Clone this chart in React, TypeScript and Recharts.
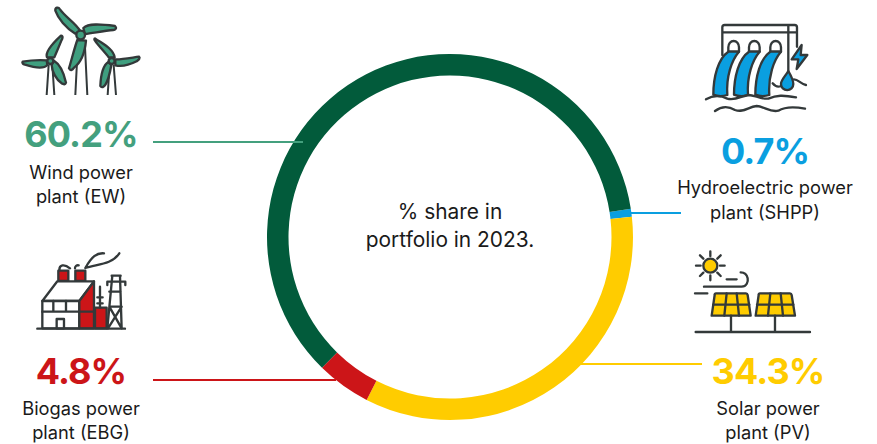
import React from "react";
import { PieChart, Pie, Cell } from "recharts";

const categories = ["Hydroelectric power plant (SHPP)", "Solar power plant (PV)", "Biogas power plant (EBG)", "Wind power plant (EW)"];
const shares = [0.7, 34.3, 4.8, 60.2];
const sliceColors = ["#0a9fe0", "#ffcc00", "#cc1518", "#025b3b"];
const valueLabels = ["0.7%", "34.3%", "4.8%", "60.2%"];
const labelColors = ["#0a9fe0", "#ffcc00", "#cc1518", "#44a07e"];
const line1 = ["Hydroelectric power", "Solar power", "Biogas power", "Wind power"];
const line2 = ["plant (SHPP)", "plant (PV)", "plant (EBG)", "plant (EW)"];
const centerLines = ["% share in", "portfolio in 2023."];

const labelCx = [765, 768, 81, 81];
const valueBase = [164, 384, 384, 147];
const line1Base = [194, 415, 415, 179];
const line2Base = [219, 439, 439, 203];
const leaders = [
  [630, 213, 681, 213],
  [580, 364, 702, 364],
  [153, 380, 336, 380],
  [153, 142, 303, 142],
];

const FONT = "Inter, 'Open Sans', sans-serif";
const data = categories.map((name, i) => ({ name, value: shares[i] }));
const DK = "#33393a";

function WindIcon() {
  const c = { fill: "#3f9f7f", stroke: DK, strokeWidth: 7, strokeLinejoin: "round" as const };
  const m = { stroke: DK, strokeWidth: 6, fill: "none" };
  return (
    <g transform="scale(0.3333)">
      <path d="M232 165L226 285M254 120L262 285M146 195L140 285M157 195L163 285M329 195L323 285M341 195L348 285" {...m} />
      <path {...c} d="M226 101C198 85 174 55 166 32C165 22 175 20 180 28C195 50 228 70 240 92Z" />
      <path {...c} d="M250 84C265 70 300 72 345 78C352 85 345 90 340 90C310 93 275 100 255 102Z" />
      <path {...c} d="M232 120C223 145 216 175 207 205C212 215 218 208 222 203C240 190 254 165 258 122Z" />
      <circle {...c} cx="242" cy="105" r="13" />
      <path {...c} d="M141 172C134 155 158 130 183 107C190 108 188 115 184 122C177 140 170 155 163 172Z" />
      <path {...c} d="M140 181C120 180 90 181 68 185C65 190 70 192 75 194C100 202 130 209 142 195Z" />
      <path {...c} d="M162 182C184 195 193 225 198 248C195 256 190 252 185 250C168 238 156 215 155 195Z" />
      <circle {...c} cx="151" cy="183" r="9" />
      <path {...c} d="M285 115C305 130 340 145 344 172L326 172C315 157 295 137 285 122C282 118 283 115 285 115Z" />
      <path {...c} d="M346 178C365 179 400 172 417 170C422 175 415 180 410 184C390 194 370 202 346 196Z" />
      <path {...c} d="M325 186C306 198 302 235 301 258C305 265 312 260 315 256C326 240 329 225 334 195Z" />
      <circle {...c} cx="335" cy="183" r="9" />
    </g>
  );
}

function HydroIcon() {
  const s = { stroke: DK, strokeWidth: 7, strokeLinejoin: "round" as const, strokeLinecap: "round" as const };
  const f = { ...s, fill: "#0a9fe0" };
  const n = { ...s, fill: "none" };
  const xs = [0, 62, 126];
  return (
    <g transform="scale(0.3333)">
      <path {...n} d="M127 165V82Q127 75 134 75H344Q351 75 351 82V140M127 97H351M325 75V215" />
      {xs.map((dx) => (
        <g key={dx} transform={`translate(${dx} 0)`}>
          <path {...s} fill="#fff" d="M145 155V142A16 19 0 0 1 177 142V155Z" />
          <path {...f} d="M145 155H177C155 180 138 230 142 285Q120 292 100 284C100 230 115 175 145 155Z" />
        </g>
      ))}
      <path {...f} d="M325 213C315 230 303 240 303 252A18 18 0 0 0 340 252C340 240 332 225 325 213Z" />
      <path {...f} d="M365 135L335 178L355 178L350 207L382 165L362 165Z" />
      <path {...n} d="M78 298C100 285 120 285 142 296C165 303 185 288 205 285C225 285 240 298 265 296C290 285 310 285 348 292" />
      <path {...n} d="M105 333C125 318 145 318 165 330C190 340 205 320 230 318C255 320 270 338 295 332C315 320 345 320 375 326" />
      <path {...n} d="M342 238C355 238 362 252 378 255M278 250C288 262 295 262 303 258" />
    </g>
  );
}

function FactoryIcon() {
  const s = { stroke: DK, strokeWidth: 7, strokeLinejoin: "round" as const, strokeLinecap: "round" as const };
  const r = { ...s, fill: "#cc1518" };
  const n = { ...s, fill: "none" };
  return (
    <g transform="scale(0.3333)">
      <rect {...r} x="115" y="92" width="30" height="31" />
      <rect {...r} x="166" y="92" width="30" height="31" />
      <path {...n} d="M118 90C118 75 132 70 150 85M165 85C165 78 170 75 176 76M196 84C215 50 230 38 252 40M196 84C230 72 275 75 298 40" />
      <path {...s} fill="#fff" d="M67 183L112 124H222L178 183Z" />
      <rect {...s} fill="#fff" x="67" y="183" width="111" height="82" />
      <path {...n} d="M67 215H178M100 183V215M138 183V215" />
      <rect {...s} fill="#fff" x="110" y="237" width="22" height="28" />
      <path {...r} d="M178 183L222 124V265H178Z" />
      <path {...n} d="M178 215H222" />
      <rect {...r} x="225" y="203" width="35" height="62" />
      <path {...n} d="M240 140V203M232 172H248M232 190H248" />
      <path {...n} d="M275 107H302M262 125H316M262 125V135M316 125V135M277 107L262 265M300 107L305 265M268 155H302M268 200H305M268 200L305 265M305 200L264 265" />
      <path {...n} d="M52 266H315" />
    </g>
  );
}

function SolarIcon() {
  const s = { stroke: DK, strokeWidth: 7, strokeLinejoin: "round" as const, strokeLinecap: "round" as const };
  const y = { ...s, fill: "#ffcc00" };
  const n = { ...s, fill: "none" };
  return (
    <g transform="scale(0.3333)">
      <circle {...y} cx="91" cy="77" r="21" />
      <path {...n} d="M91 34V48M91 106V121M48 77H62M120 77H134M60 46L70 56M112 98L122 108M122 46L112 56M70 98L60 108" />
      <path {...n} d="M72 140H185C200 140 205 125 203 115C200 100 190 97 182 97M140 118H170M45 160H82" />
      <path {...y} d="M108 160H198Q202 160 203 165L212 227H95L104 165Q104 160 108 160Z" />
      <path {...n} d="M100 194H208M140 160L133 227M170 160L177 227" />
      <path {...y} d="M240 160H330Q334 160 335 165L345 227H227L236 165Q236 160 240 160Z" />
      <path {...n} d="M231 194H340M271 160L264 227M302 160L309 227" />
      <path {...n} d="M153 227V275M285 227V275M47 276H390" />
    </g>
  );
}

export default function App() {
  return (
    <div style={{ position: "absolute", left: 0, top: 0, width: 877, height: 444, background: "#fff", overflow: "hidden" }}>
      <PieChart width={877} height={444} margin={{ top: 0, right: 0, bottom: 0, left: 0 }}>
        <Pie
          data={data}
          dataKey="value"
          nameKey="name"
          cx={450}
          cy={237}
          innerRadius={161.5}
          outerRadius={183}
          startAngle={8.9}
          endAngle={-351.1}
          stroke="none"
          isAnimationActive={false}
        >
          {data.map((d, i) => (
            <Cell key={d.name} fill={sliceColors[i]} />
          ))}
        </Pie>
      </PieChart>
      <svg width={877} height={444} style={{ position: "absolute", left: 0, top: 0 }} fontFamily={FONT}>
        {leaders.map((l, i) => (
          <line key={i} x1={l[0]} y1={l[1]} x2={l[2]} y2={l[3]} stroke={labelColors[i]} strokeWidth={2} />
        ))}
        {valueLabels.map((t, i) => (
          <g key={t} textAnchor="middle">
            <text x={labelCx[i]} y={valueBase[i]} fontSize={36} fontWeight={700} letterSpacing={-0.9} fill={labelColors[i]}>{t}</text>
            <text x={labelCx[i]} y={line1Base[i]} fontSize={18.3} fill="#1a1a1a">{line1[i]}</text>
            <text x={labelCx[i]} y={line2Base[i]} fontSize={18.3} fill="#1a1a1a">{line2[i]}</text>
          </g>
        ))}
        <text x={450} y={219} textAnchor="middle" fontSize={20.9} fill="#1a1a1a">{centerLines[0]}</text>
        <text x={450} y={247} textAnchor="middle" fontSize={20.9} fill="#1a1a1a">{centerLines[1]}</text>
        <WindIcon />
        <g transform="translate(680 0)"><HydroIcon /></g>
        <g transform="translate(20 240)"><FactoryIcon /></g>
        <g transform="translate(680 240)"><SolarIcon /></g>
      </svg>
    </div>
  );
}
